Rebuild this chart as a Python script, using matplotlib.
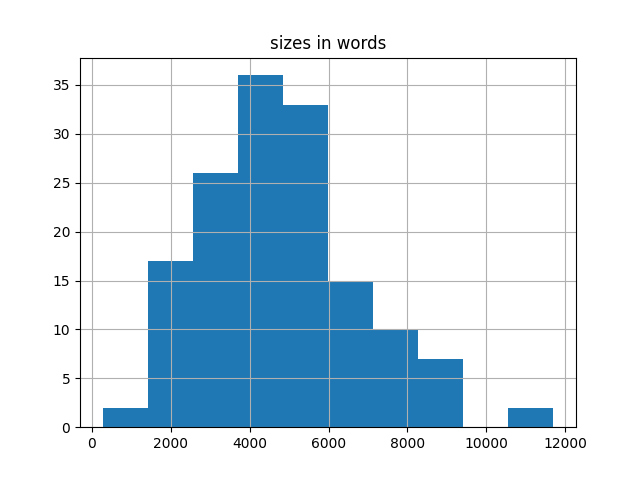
import matplotlib
matplotlib.use("Agg")
import matplotlib.pyplot as plt
import numpy as np

# histogram of document sizes (words)
min_words = 270
max_words = 11700
counts = [2, 17, 26, 36, 33, 15, 10, 7, 0, 2]

edges = np.linspace(min_words, max_words, len(counts) + 1)
centers = (edges[:-1] + edges[1:]) / 2

fig, ax = plt.subplots(figsize=(6.4, 4.8), dpi=100)
ax.hist(centers, bins=edges, weights=counts, color="#1f77b4")
ax.grid(True)
ax.set_title("sizes in words")

fig.savefig("out.png")
